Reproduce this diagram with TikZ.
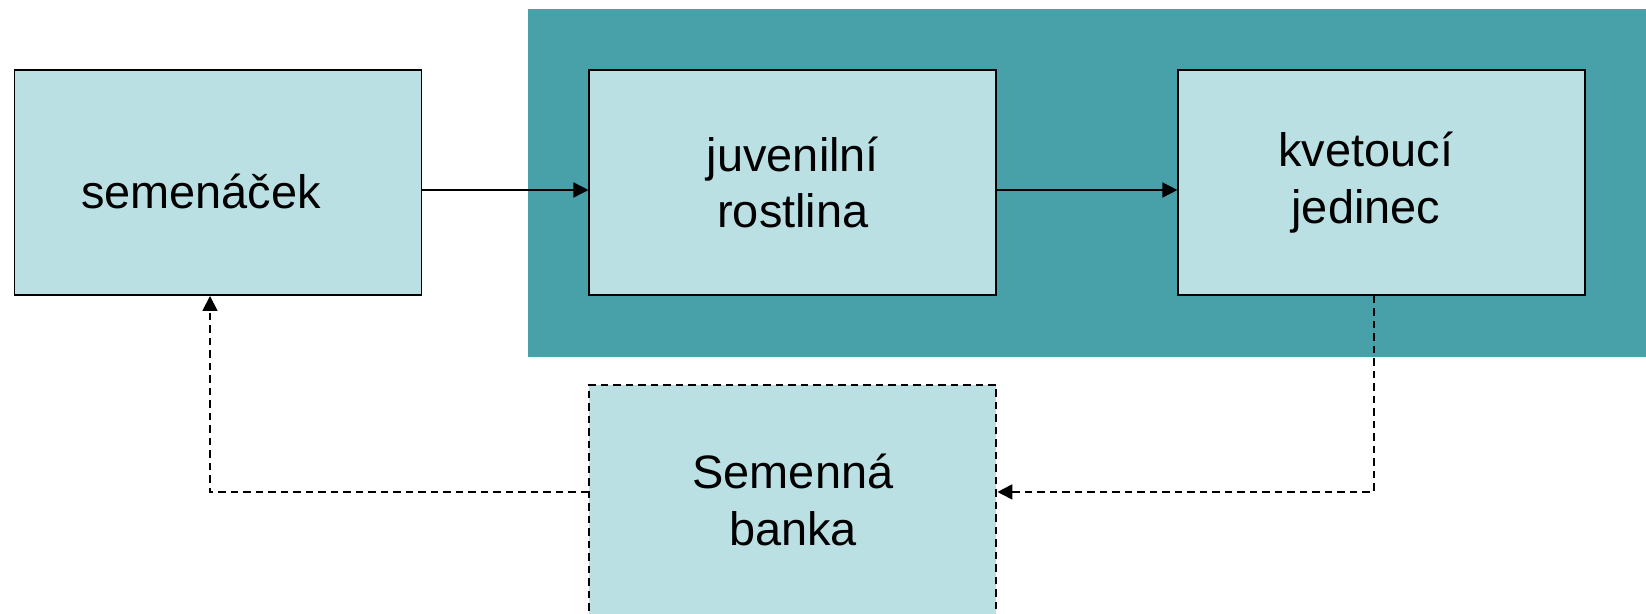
\documentclass[tikz,border=0pt]{standalone}
\usepackage{fontspec}
\setmainfont{Liberation Sans}
\usetikzlibrary{arrows.meta,positioning}

\definecolor{stagefill}{HTML}{48A0A8}
\definecolor{boxfill}{HTML}{BAE0E3}

\tikzset{
  stagebox/.style={draw, line width=1.1pt, fill=boxfill, minimum width=8.14cm,
    minimum height=4.5cm, inner sep=0pt, align=center,
    font=\fontsize{26.7pt}{32pt}\selectfont},
  link/.style={line width=0.85pt, -{Triangle[length=0.3cm,width=0.3cm]}},
  backlink/.style={link, line width=1pt, dash pattern=on 0.15cm off 0.1cm}
}

\begin{document}
\begin{tikzpicture}
  \useasboundingbox (0,0) rectangle (32.92,-12.26);

  % Adult stages on the teal panel
  \fill[stagefill] (10.56,-0.18) rectangle (32.92,-7.14);

  % Life-cycle boxes
  \node[stagebox] (seme) at (4.36,-3.65) {\raisebox{0pt}[1.04cm][0pt]{semenáček}\kern0.68cm};
  \node[stagebox, right=3.32cm of seme] (juv) {juvenilní\\rostlina};
  \node[stagebox, right=3.6cm of juv] (kvet) {kvetoucí\kern0.64cm\\jedinec\kern0.64cm};
  \node[stagebox, dash pattern=on 0.15cm off 0.1cm, minimum height=4.6cm,
    below=1.76cm of juv] (bank) {Semenná\\banka};

  % Growth
  \draw[link] ([yshift=-0.15cm]seme.east) -- ([yshift=-0.15cm]juv.west);
  \draw[link] ([yshift=-0.15cm]juv.east) -- ([yshift=-0.15cm]kvet.west);

  % Through the seed bank
  \draw[backlink] ([xshift=-0.16cm]kvet.south) |- ([yshift=0.16cm]bank.east);
  \draw[backlink] ([yshift=0.16cm]bank.west) -| ([xshift=-0.16cm]seme.south);
\end{tikzpicture}
\end{document}
